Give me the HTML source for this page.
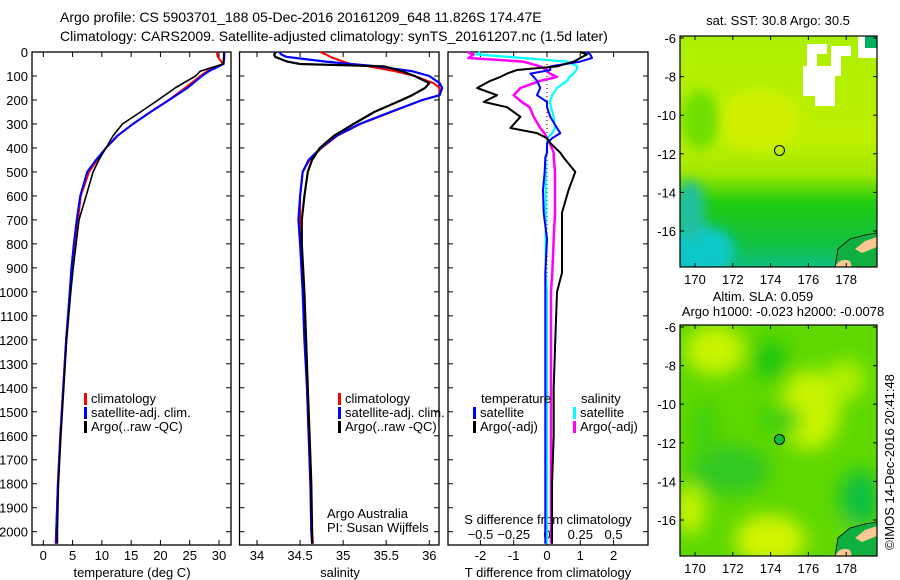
<!DOCTYPE html>
<html><head><meta charset="utf-8">
<style>
html,body{margin:0;padding:0;background:#fff;}
svg{display:block;font-family:"Liberation Sans",sans-serif;}
text{font-size:13px;fill:#000;}
</style></head>
<body>
<svg id="fig" width="900" height="580" viewBox="0 0 900 580">
<text x="60" y="22" style="font-size:14px">Argo profile: CS 5903701_188 05-Dec-2016 20161209_648 11.826S 174.47E</text>
<text x="60" y="41" style="font-size:14px">Climatology: CARS2009. Satellite-adjusted climatology: synTS_20161207.nc (1.5d later)</text>
<g id="p1"></g>
<g id="p2"></g>
<g id="p3"></g>
<g id="m1"></g>
<g id="m2"></g>
<text x="0" y="0" transform="translate(894,462) rotate(-90)" text-anchor="middle" style="font-size:13px">©IMOS 14-Dec-2016 20:41:48</text>
</svg>
<script>
// depth levels (m)
const depthsT = [0,20,50,80,100,150,200,250,300,350,400,450,500,600,700,800,900,1000,1200,1400,1600,1800,2000,2050];
// temperature profiles (deg C)
const tempArgo = [30.8,30.8,30.7,26.8,26.0,22.5,19.6,16.6,13.5,11.9,10.7,9.5,8.5,7.3,6.1,5.6,5.1,4.7,4.0,3.5,3.0,2.6,2.4,2.4];
const tempClim = [29.6,29.8,30.7,28.0,26.8,24.2,21.4,18.3,15.3,12.7,10.7,9.2,7.8,6.4,5.9,5.4,4.9,4.6,3.9,3.4,2.9,2.5,2.2,2.1];
const tempSat  = [30.9,30.9,30.8,28.3,27.1,24.6,21.5,18.3,15.3,12.6,10.7,9.0,7.5,6.3,5.7,5.2,4.8,4.5,3.9,3.4,2.9,2.5,2.2,2.2];
const depthsS = [0,10,20,40,50,60,80,100,130,150,180,200,250,300,350,400,450,500,600,700,800,1000,1200,1400,1600,1800,2000,2050];
// salinity profiles
const salArgo = [34.22,34.20,34.21,34.35,34.50,35.48,35.68,35.83,36.00,35.95,35.80,35.68,35.36,35.12,34.89,34.73,34.64,34.59,34.55,34.52,34.52,34.55,34.57,34.59,34.61,34.63,34.64,34.64];
const salClim = [34.73,34.80,34.85,35.00,35.09,35.30,35.60,35.83,36.05,36.12,36.12,35.92,35.56,35.20,34.93,34.75,34.61,34.53,34.50,34.50,34.51,34.53,34.56,34.58,34.60,34.62,34.64,34.65];
const salSat  = [34.26,34.28,34.34,34.80,35.09,35.40,35.80,36.00,36.12,36.15,36.12,35.92,35.55,35.19,34.92,34.74,34.60,34.53,34.50,34.48,34.50,34.53,34.55,34.58,34.60,34.62,34.63,34.64];
// difference profiles
const depthsD = [0,10,25,40,60,75,90,104,120,150,180,208,230,270,317,338,360,380,420,440,500,575,670,780,920,1000,1200,1400,1600,1800,2000,2050];
const tDiffArgo = [1.0,1.2,1.0,0.8,0.3,-0.9,-1.2,-1.4,-1.7,-2.1,-1.5,-1.9,-1.2,-0.8,-1.1,-0.3,0.0,0.1,0.4,0.5,0.85,0.65,0.45,0.45,0.45,0.3,0.25,0.2,0.2,0.15,0.15,0.15];
const tDiffSat  = [1.2,1.3,1.35,1.0,0.1,0.1,-0.5,-0.4,-0.3,-0.2,-0.3,0.0,0.0,0.1,0.3,0.4,0.15,0.0,0.0,-0.05,-0.07,-0.12,-0.1,-0.0,-0.05,-0.05,-0.05,-0.05,-0.05,-0.05,-0.05,-0.05];
const sDiffArgo = [-0.6,-0.55,-0.59,-0.18,-0.05,0.0,0.02,0.075,-0.05,-0.2,-0.25,-0.19,-0.13,-0.1,-0.05,-0.02,0.0,0.02,0.05,0.05,0.06,0.06,0.06,0.05,0.04,0.03,0.03,0.03,0.03,0.03,0.03,0.03];
const sDiffSat  = [-0.5,-0.53,-0.18,0.15,0.23,0.22,0.2,0.17,0.15,0.075,0.04,0.02,0.03,0.05,0.06,0.04,0.0,0.0,0.0,-0.01,-0.01,-0.01,-0.01,-0.01,-0.01,0.0,0.0,0.0,0.0,0.0,0.0,0.0];
const depthTicks = [0,100,200,300,400,500,600,700,800,900,1000,1100,1200,1300,1400,1500,1600,1700,1800,1900,2000];
const tempTicks = [0,5,10,15,20,25,30];
const salTicks = [34,34.5,35,35.5,36];
const tDiffTicks = [-2,-1,0,1,2];
const sDiffTicks = [-0.5,-0.25,0,0.25,0.5];

const NS='http://www.w3.org/2000/svg';
function mk(parent,tag,attrs,txt){const e=document.createElementNS(NS,tag);for(const k in attrs)e.setAttribute(k,attrs[k]);if(txt!==undefined)e.textContent=txt;parent.appendChild(e);return e;}
const TOP=52, BOT=545;
const yD = d => TOP + d*(531.7-TOP)/2000;

function frame(g,x0,x1){
  const r=mk(g,'rect',{x:x0,y:TOP,width:x1-x0,height:BOT-TOP,fill:'none',stroke:'#000','stroke-width':1.3});
  
  
}
function xTicks(g,xs,ticks,fmt,labelY,withTop){
  ticks.forEach(v=>{
    const x=xs(v);
    const t=mk(g,'line',{x1:x,x2:x,y1:BOT,y2:BOT-5,stroke:'#000'});
    
    
    if(withTop){mk(g,'line',{x1:x,x2:x,y1:TOP,y2:TOP+5,stroke:'#000'});}
    const l=mk(g,'text',{x:x,y:labelY,'text-anchor':'middle'},fmt(v));
    
    
  });
}
function yTicksIn(g,x0,x1){
  depthTicks.forEach(d=>{
    const y=yD(d);
    mk(g,'line',{x1:x0,x2:x0+5,y1:y,y2:y,stroke:'#000'});
    mk(g,'line',{x1:x1,x2:x1-5,y1:y,y2:y,stroke:'#000'});
  });
}
function line(g,xs,vals,depths,color,w,name){
  const pts=vals.map((v,i)=>xs(v).toFixed(1)+','+yD(depths[i]).toFixed(1)).join(' ');
  const p=mk(g,'polyline',{points:pts,fill:'none',stroke:color,'stroke-width':w,'stroke-linejoin':'round'});
  
  
}
function legend(g,x,y,items){
  items.forEach((it,i)=>{
    const yy=y+i*14;
    mk(g,'rect',{x:x,y:yy-10,width:3,height:12,fill:it[1]});
    const t=mk(g,'text',{x:x+7,y:yy},it[0]);
    
    
  });
}

// Panel 1: temperature
const g1=document.getElementById('p1');
const xT=v=>43.3+v*(219-43.3)/30;
frame(g1,32,231); yTicksIn(g1,32,231);
depthTicks.forEach(d=>{
  const t=mk(g1,'text',{x:28,y:yD(d)+5,'text-anchor':'end'},String(d));
  
  
});
xTicks(g1,xT,tempTicks,String,560,true);
mk(g1,'text',{x:132,y:577,'text-anchor':'middle'},'temperature (deg C)');
line(g1,xT,tempClim,depthsT,'#f00',2,'temp-climatology-line');
line(g1,xT,tempSat,depthsT,'#00f',2,'temp-satellite-line');
line(g1,xT,tempArgo,depthsT,'#000',1.6,'temp-argo-line');
legend(g1,84,403,[['climatology','#f00'],['satellite-adj. clim.','#00f'],['Argo(..raw -QC)','#000']]);

// Panel 2: salinity
const g2=document.getElementById('p2');
const xS=v=>257+(v-34)*(429.3-257)/2;
frame(g2,239.5,439); yTicksIn(g2,239.5,439);
xTicks(g2,xS,salTicks,String,560,true);
mk(g2,'text',{x:340,y:577,'text-anchor':'middle'},'salinity');
line(g2,xS,salClim,depthsS,'#f00',2,'sal-climatology-line');
line(g2,xS,salSat,depthsS,'#00f',2.2,'sal-satellite-line');
line(g2,xS,salArgo,depthsS,'#000',2.2,'sal-argo-line');
legend(g2,338,403,[['climatology','#f00'],['satellite-adj. clim.','#00f'],['Argo(..raw -QC)','#000']]);
mk(g2,'text',{x:327,y:518},'Argo Australia');
mk(g2,'text',{x:327,y:532},'PI: Susan Wijffels');

// Panel 3: differences
const g3=document.getElementById('p3');
const xTD=v=>547+v*33.3;
const xSD=v=>547+v*133.2;
frame(g3,448,648); yTicksIn(g3,448,648);
mk(g3,'line',{x1:547,x2:547,y1:TOP,y2:BOT,stroke:'#000','stroke-dasharray':'1,3'});
xTicks(g3,xTD,tDiffTicks,String,560,true);
sDiffTicks.forEach(v=>{
  const t=mk(g3,'text',{x:xSD(v),y:539,'text-anchor':'middle'},v===0?'0':String(v).replace('-','−'));
  
  
});
mk(g3,'text',{x:548,y:524,'text-anchor':'middle'},'S difference from climatology');
mk(g3,'text',{x:548,y:577,'text-anchor':'middle'},'T difference from climatology');
line(g3,xSD,sDiffSat,depthsD,'#0ff',2.2,'s-diff-satellite-line');
line(g3,xSD,sDiffArgo,depthsD,'#f0f',2.5,'s-diff-argo-line');
line(g3,xTD,tDiffSat,depthsD,'#00f',2,'t-diff-satellite-line');
line(g3,xTD,tDiffArgo,depthsD,'#000',2,'t-diff-argo-line');
mk(g3,'text',{x:481,y:403},'temperature');
legend(g3,473,417,[['satellite','#00f'],['Argo(-adj)','#000']]);
mk(g3,'text',{x:581,y:403},'salinity');
legend(g3,573,417,[['satellite','#0ff'],['Argo(-adj)','#f0f']]);

// Maps
const lonTicks=[170,172,174,176,178];
const latTicks=[-6,-8,-10,-12,-14,-16];
function map(id,y0,title1,title2,kind){
  const g=document.getElementById(id);
  const x0=680,x1=877,y1=y0+231;
  const lx=v=>695+(v-170)*18.9, ly=v=>y0+2+(-6-v)*19.3;
  const defs=mk(g,'defs',{});
  const cid='clip'+id;
  const cp=mk(defs,'clipPath',{id:cid}); mk(cp,'rect',{x:x0,y:y0,width:x1-x0,height:y1-y0});
  const f=mk(defs,'filter',{id:'bl'+id}); mk(f,'feGaussianBlur',{stdDeviation:kind==='sst'?6:9});
  const cg=mk(g,'g',{'clip-path':'url(#'+cid+')'});
  const lg=mk(defs,'linearGradient',{id:'lg'+id,x1:0,y1:0,x2:0,y2:1});
  if(kind==='sst'){
    [['0','#aaf000'],['0.45','#c0f000'],['0.6','#9ee800'],['0.72','#22cc10'],['0.9','#10c040'],['1','#10c080']].forEach(s=>mk(lg,'stop',{offset:s[0],'stop-color':s[1]}));
    mk(cg,'rect',{x:x0,y:y0,width:197,height:231,fill:'url(#lg'+id+')'});
    const bg=mk(cg,'g',{filter:'url(#bl'+id+')'});
    mk(bg,'ellipse',{cx:700,cy:250,rx:35,ry:25,fill:'#10c8c8'});
    mk(bg,'ellipse',{cx:690,cy:210,rx:15,ry:30,fill:'#20c0a0'});
    mk(bg,'ellipse',{cx:760,cy:120,rx:40,ry:30,fill:'#d0f000'});
    mk(bg,'ellipse',{cx:700,cy:120,rx:20,ry:30,fill:'#70e000'});
    mk(cg,'path',{d:'M807 44 h20 v10 h-10 v12 h14 v-20 h20 v10 h-10 v20 h-6 v30 h-20 v-10 h-12 v-30 h4 z',fill:'#fff'});
    mk(cg,'rect',{x:858,y:36,width:19,height:22,fill:'#fff'});
    mk(cg,'rect',{x:865,y:36,width:12,height:12,fill:'#00b060'});
  } else {
    mk(cg,'rect',{x:x0,y:y0,width:197,height:231,fill:'#5ed800'});
    const bg=mk(cg,'g',{filter:'url(#bl'+id+')'});
    [[715,350,30,25,'#c8f400'],[810,410,30,40,'#c8f400'],[770,540,35,25,'#d4f400'],[690,510,15,25,'#c8f400'],[845,380,20,20,'#b0f000'],[770,360,18,20,'#20c810'],[730,470,40,25,'#30c820'],[860,500,20,30,'#10c040'],[780,420,22,15,'#40d010'],[840,540,25,20,'#60d800'],[705,430,12,30,'#40d010']].forEach(e=>mk(bg,'ellipse',{cx:e[0],cy:e[1],rx:e[2],ry:e[3],fill:e[4]}));
  }
  // land (Fiji area)
  const dy=y1-y0;
  mk(cg,'path',{d:`M835 ${y0+dy} L838 ${y0+dy-18} L850 ${y0+dy-28} L865 ${y0+dy-32} L877 ${y0+dy-34} L877 ${y0+dy} Z`,fill:'#10b040',stroke:'#000','stroke-width':0.8});
  mk(cg,'path',{d:`M855 ${y0+dy-18} L865 ${y0+dy-26} L877 ${y0+dy-30} L877 ${y0+dy-20} L862 ${y0+dy-14} Z`,fill:'#f8c890'});
  mk(cg,'path',{d:`M835 ${y0+dy} Q840 ${y0+dy-10} 850 ${y0+dy-6} L852 ${y0+dy} Z`,fill:'#f8c890'});
  mk(g,'rect',{x:x0,y:y0,width:x1-x0,height:y1-y0,fill:'none',stroke:'#000','stroke-width':1.2});
  const c=mk(g,'circle',{cx:lx(174.47),cy:ly(-11.826),r:5,fill:kind==='sst'?'none':'#10c030',stroke:'#000'});
  
  
  lonTicks.forEach(v=>{
    mk(g,'line',{x1:lx(v),x2:lx(v),y1:y0,y2:y0+4,stroke:'#000'});
    mk(g,'line',{x1:lx(v),x2:lx(v),y1:y1,y2:y1-4,stroke:'#000'});
    const t=mk(g,'text',{x:lx(v),y:y1+17,'text-anchor':'middle'},String(v));
    
    
  });
  latTicks.forEach(v=>{
    mk(g,'line',{x1:x0,x2:x0+4,y1:ly(v),y2:ly(v),stroke:'#000'});
    mk(g,'line',{x1:x1,x2:x1-4,y1:ly(v),y2:ly(v),stroke:'#000'});
    const t=mk(g,'text',{x:676,y:ly(v)+5,'text-anchor':'end'},'-'+Math.abs(v));
    
    
  });
  if(title1){const t=mk(g,'text',{x:778,y:y0-11,'text-anchor':'middle'},title1);}
}
map('m1',36,'sat. SST: 30.8 Argo: 30.5','','sst');
map('m2',325,'','','sla');
const g2t=document.getElementById('m2');
mk(g2t,'text',{x:763,y:301,'text-anchor':'middle'},'Altim. SLA: 0.059');
mk(g2t,'text',{x:783,y:316,'text-anchor':'middle'},'Argo h1000: -0.023 h2000: -0.0078');
</script>
</body></html>
